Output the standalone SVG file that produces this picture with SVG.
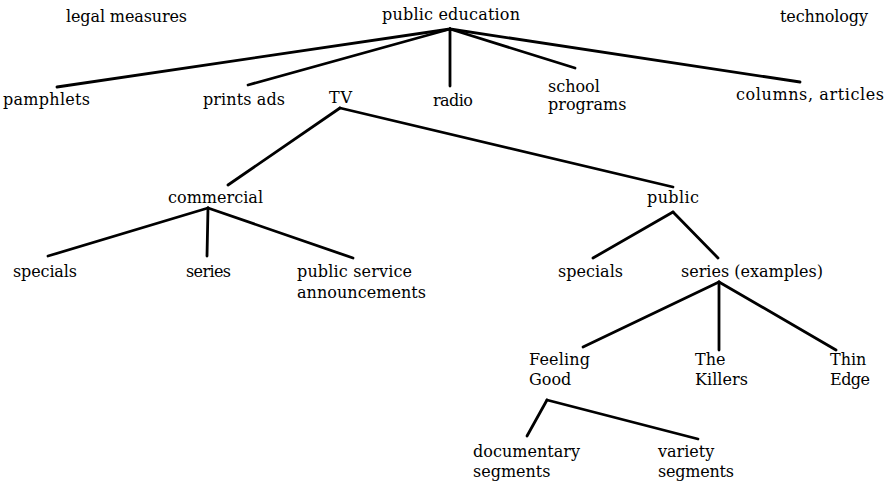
<svg xmlns="http://www.w3.org/2000/svg" width="889" height="482" viewBox="0 0 889 482">
<style>
text{font-family:"DejaVu Serif","Liberation Serif",serif;font-size:16px;fill:#000}
.c line{stroke:#000;stroke-width:2.8;stroke-linecap:round}
</style>
<rect width="889" height="482" fill="#fff"/>
<g class="c" id="connectors">
<line x1="450" y1="29" x2="57" y2="87"/>
<line x1="450" y1="29" x2="248" y2="85"/>
<line x1="450" y1="29" x2="450" y2="86"/>
<line x1="450" y1="29" x2="575" y2="68"/>
<line x1="450" y1="29" x2="800" y2="82"/>
<line x1="340" y1="108" x2="228" y2="185"/>
<line x1="340" y1="108" x2="673" y2="187"/>
<line x1="208" y1="208" x2="48" y2="256"/>
<line x1="208" y1="208" x2="207" y2="256"/>
<line x1="208" y1="208" x2="353" y2="258"/>
<line x1="673" y1="212" x2="593" y2="258"/>
<line x1="673" y1="212" x2="718" y2="258"/>
<line x1="719" y1="282" x2="583" y2="347"/>
<line x1="719" y1="282" x2="719" y2="350"/>
<line x1="719" y1="282" x2="836" y2="350"/>
<line x1="547" y1="400" x2="527" y2="436"/>
<line x1="547" y1="400" x2="698" y2="439"/>
</g>
<g id="legal"><text x="66" y="22" textLength="121">legal measures</text></g>
<g id="public-education"><text x="382" y="20" textLength="138">public education</text></g>
<g id="technology"><text x="780" y="22" textLength="88">technology</text></g>
<g id="pamphlets"><text x="3" y="105" textLength="87">pamphlets</text></g>
<g id="prints-ads"><text x="203" y="105" textLength="82">prints ads</text></g>
<g id="tv"><text x="329" y="103" textLength="23">TV</text></g>
<g id="radio"><text x="433" y="106" textLength="40">radio</text></g>
<g id="school"><text x="548" y="92">school</text><text x="548" y="110">programs</text></g>
<g id="columns"><text x="736" y="100" textLength="148">columns, articles</text></g>
<g id="commercial"><text x="168" y="203" textLength="95">commercial</text></g>
<g id="public"><text x="647" y="203" textLength="52">public</text></g>
<g id="c-specials"><text x="13" y="277" textLength="64">specials</text></g>
<g id="c-series"><text x="186" y="277" textLength="45">series</text></g>
<g id="psa"><text x="297" y="277" textLength="115">public service</text><text x="297" y="298" textLength="129">announcements</text></g>
<g id="p-specials"><text x="558" y="277" textLength="65">specials</text></g>
<g id="p-series"><text x="681" y="277" textLength="142">series (examples)</text></g>
<g id="feeling-good"><text x="529" y="365" textLength="61">Feeling</text><text x="529" y="385">Good</text></g>
<g id="killers"><text x="695" y="365">The</text><text x="695" y="385" textLength="53">Killers</text></g>
<g id="thin-edge"><text x="830" y="365">Thin</text><text x="830" y="385" textLength="40">Edge</text></g>
<g id="documentary"><text x="473" y="457" textLength="107">documentary</text><text x="473" y="477">segments</text></g>
<g id="variety"><text x="658" y="457">variety</text><text x="658" y="477" textLength="76">segments</text></g>
</svg>
